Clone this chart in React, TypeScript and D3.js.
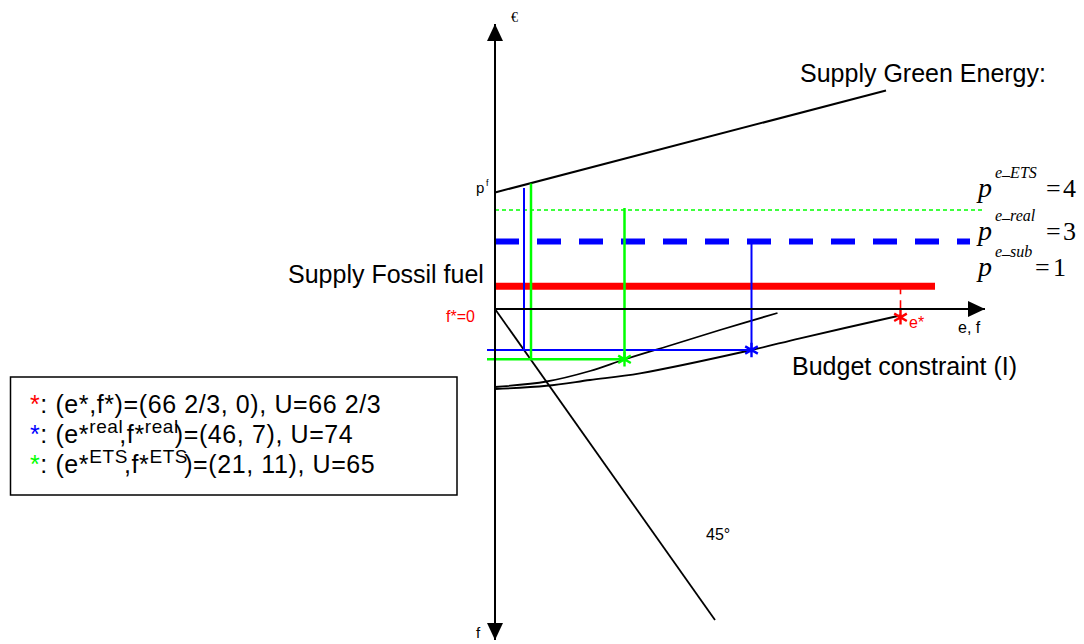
import React from 'react';
import * as d3 from 'd3';

const W = 1084;
const H = 644;

// ---- data (abstract units: e to the right, price up, f downward = negative) ----
const axisE: [number, number] = [0, 98];
const axisV: [number, number] = [-66.2, 57];
const supplyGreen: [number, number][] = [[0, 23.3], [78.2, 43.7]];
const priceLevelNames = ['ETS', 'real', 'sub'];
const priceLevelValues = [19.8, 13.5, 4.55];
const priceLevelLabels = ['4', '3', '1'];
const priceLevelEnds = [98, 95, 88];
const budgetETS: [number, number][] = [[0, -15.6], [10.3, -14.5], [19, -12.4], [25.9, -10.1], [35, -7.3], [45, -4.2], [56.5, -0.8]];
const budgetReal: [number, number][] = [[0, -16], [10.3, -15.35], [19, -14.2], [29, -12.86], [51.3, -8.2], [61, -5.86], [81, -1.3]];
const line45: [number, number][] = [[0, 0], [44, -62.2]];
const optimumNames = ['sub', 'real', 'ETS'];
const optimumE = [81.1, 51.3, 25.9];
const optimumF = [-1.66, -8.2, -10.06];
const realGuideE = [5.8, 51.3];
const realGuideTop = [24.2, 13.5];
const etsGuideE = [7.2, 25.9];
const etsGuideTop = [25.1, 20.2];
const guideStartE = -1.6;
const legendLines = [
  { star: 'sub', pre: ': (e*,f*)=(66 2/3, 0), U=66 2/3', sup: '', mid: '', post: '' },
  { star: 'real', pre: ': (e*', sup: 'real', mid: ',f*', post: ')=(46, 7), U=74' },
  { star: 'ETS', pre: ': (e*', sup: 'ETS', mid: ',f*', post: ')=(21, 11), U=65' },
];

const colors: Record<string, string> = { ETS: '#00ff00', real: '#0000ff', sub: '#ff0000' };
const SANS = '"Liberation Sans", Arial, sans-serif';
const SERIF = '"Liberation Serif", "Times New Roman", serif';

export default function App() {
  const x = d3.scaleLinear().domain([0, 98]).range([495, 985]);
  const y = d3.scaleLinear().domain([0, 56]).range([309, 29]);
  const lineGen = d3.line<[number, number]>().x(d => x(d[0])).y(d => y(d[1]));
  const curveGen = d3.line<[number, number]>().x(d => x(d[0])).y(d => y(d[1])).curve(d3.curveCatmullRom.alpha(0.5));
  const star = d3.symbol().type(d3.symbolAsterisk).size(150);

  const eqX = [1046, 1046, 1035];
  const numX = [1063, 1063, 1053];
  const eqBase = [197, 240, 276];

  return (
    <svg width={W} height={H} style={{ position: 'absolute', left: 0, top: 0, display: 'block', background: '#fff' }}>
      <defs>
        <marker id="arr" viewBox="0 0 17 16" refX={17} refY={8} markerWidth={17} markerHeight={16}
          markerUnits="userSpaceOnUse" orient="auto-start-reverse">
          <path d="M0,0L17,8L0,16z" fill="#000" />
        </marker>
      </defs>

      {/* price levels */}
      {priceLevelNames.map((n, i) => {
        const p = priceLevelValues[i];
        const style =
          n === 'ETS' ? { strokeWidth: 1.4, dash: '4,3' } :
          n === 'real' ? { strokeWidth: 6, dash: '24,18' } : { strokeWidth: 7, dash: undefined };
        return (
          <line key={n} x1={x(0)} x2={x(priceLevelEnds[i])} y1={y(p)} y2={y(p)}
            stroke={colors[n]} strokeWidth={style.strokeWidth} strokeDasharray={style.dash} />
        );
      })}

      {/* green supply */}
      <path d={lineGen(supplyGreen) || ''} fill="none" stroke="#000" strokeWidth={2} />

      {/* budget curves */}
      <path d={curveGen(budgetETS) || ''} fill="none" stroke="#000" strokeWidth={1.8} />
      <path d={curveGen(budgetReal) || ''} fill="none" stroke="#000" strokeWidth={1.8} />
      <path d={lineGen(line45) || ''} fill="none" stroke="#000" strokeWidth={1.8} />

      {/* blue guides */}
      {realGuideE.map((e, i) => (
        <line key={'rg' + i} x1={x(e)} x2={x(e)} y1={y(realGuideTop[i])} y2={y(optimumF[1])} stroke={colors.real} strokeWidth={2} />
      ))}
      <line x1={x(guideStartE)} x2={x(optimumE[1])} y1={y(optimumF[1])} y2={y(optimumF[1])} stroke={colors.real} strokeWidth={2} />

      {/* green guides */}
      {etsGuideE.map((e, i) => (
        <line key={'eg' + i} x1={x(e)} x2={x(e)} y1={y(etsGuideTop[i])} y2={y(optimumF[2])} stroke={colors.ETS} strokeWidth={2.5} />
      ))}
      <line x1={x(guideStartE)} x2={x(optimumE[2])} y1={y(optimumF[2])} y2={y(optimumF[2])} stroke={colors.ETS} strokeWidth={2.5} />

      {/* red dashed marker */}
      <line x1={x(optimumE[0])} x2={x(optimumE[0])} y1={y(priceLevelValues[2])} y2={y(optimumF[0])}
        stroke={colors.sub} strokeWidth={1.6} strokeDasharray="8,6" />

      {/* axes */}
      <line x1={x(0)} x2={x(0)} y1={y(axisV[0])} y2={y(axisV[1])} stroke="#000" strokeWidth={2}
        markerStart="url(#arr)" markerEnd="url(#arr)" />
      <line x1={x(axisE[0])} x2={x(axisE[1])} y1={y(0)} y2={y(0)} stroke="#000" strokeWidth={2} markerEnd="url(#arr)" />

      {/* optimum stars */}
      {optimumNames.map((n, i) => (
        <path key={n} d={star() || ''} transform={`translate(${x(optimumE[i])},${y(optimumF[i])})`}
          fill="none" stroke={colors[n]} strokeWidth={2.4} />
      ))}

      {/* axis labels */}
      <text x={511} y={22} fontFamily={SERIF} fontSize={14}>€</text>
      <text x={476} y={638} fontFamily={SANS} fontSize={15}>f</text>
      <text x={958} y={333} fontFamily={SANS} fontSize={16}>e, f</text>
      <text x={476} y={193} fontFamily={SANS} fontSize={15}>p</text>
      <text x={486} y={186} fontFamily={SANS} fontSize={9}>f</text>
      <text x={446} y={322} fontFamily={SANS} fontSize={16} fill={colors.sub}>f*=0</text>
      <text x={909} y={328} fontFamily={SANS} fontSize={16} fill={colors.sub}>e*</text>
      <text x={706} y={540} fontFamily={SANS} fontSize={16}>45°</text>

      <text x={800} y={82} fontFamily={SANS} fontSize={25}>Supply Green Energy:</text>
      <text x={288} y={283} fontFamily={SANS} fontSize={25}>Supply Fossil fuel</text>
      <text x={792} y={375} fontFamily={SANS} fontSize={25}>Budget constraint (I)</text>

      {/* price equations */}
      {priceLevelNames.map((n, i) => (
        <g key={'eq' + n} fontFamily={SERIF}>
          <text x={978} y={eqBase[i]} fontSize={28} fontStyle="italic">p</text>
          <text x={995} y={eqBase[i] - 19} fontSize={16} fontStyle="italic">
            <tspan>e</tspan>
            <tspan dy={-3}>_</tspan>
            <tspan dy={3}>{n}</tspan>
          </text>
          <text x={eqX[i]} y={eqBase[i]} fontSize={26}>=</text>
          <text x={numX[i]} y={eqBase[i]} fontSize={26}>{priceLevelLabels[i]}</text>
        </g>
      ))}

      {/* legend */}
      <rect x={10.5} y={377} width={446.5} height={118} fill="#fff" stroke="#000" strokeWidth={1.5} />
      {legendLines.map((l, i) => (
        <text key={'lg' + i} x={30} y={413 + i * 30} fontFamily={SANS} fontSize={25} letterSpacing={0.6}>
          <tspan fill={colors[l.star]}>*</tspan>
          <tspan>{l.pre}</tspan>
          {l.sup ? (
            <>
              <tspan fontSize={19} dy={-10}>{l.sup}</tspan>
              <tspan dy={10} dx={-4}>{l.mid}</tspan>
              <tspan fontSize={19} dy={-10}>{l.sup}</tspan>
              <tspan dy={10} dx={-4}>{l.post}</tspan>
            </>
          ) : null}
        </text>
      ))}
    </svg>
  );
}
